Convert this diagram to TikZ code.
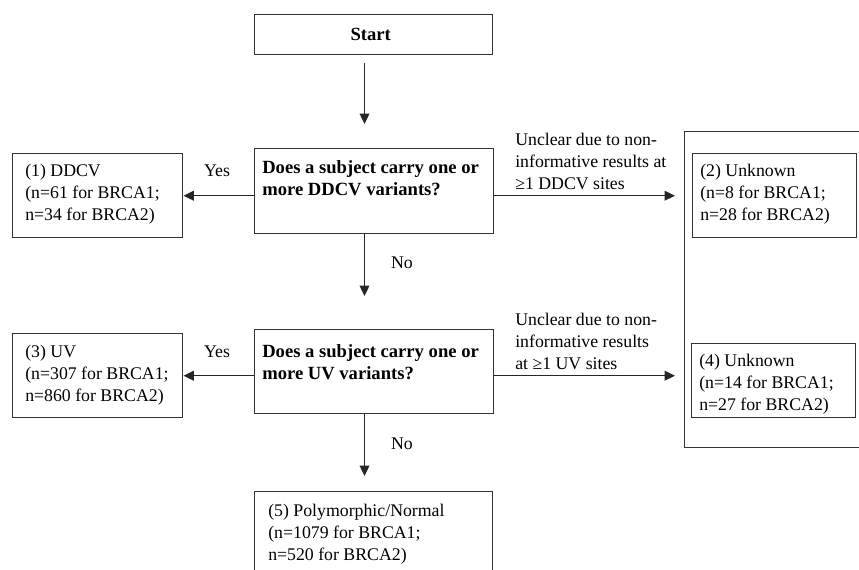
\documentclass[tikz,border=0pt]{standalone}
\usepackage{fontspec}
\setmainfont{Liberation Serif}
\usetikzlibrary{arrows.meta,calc}
\def\upx{0.72pt}
\tikzset{
  box/.style={draw=black!80, line width=1.05pt, rectangle, inner sep=0pt, anchor=north west},
  txt/.style={anchor=north west, align=left, inner sep=0pt, font=\fontsize{12.8}{15.8}\selectfont},
  btxt/.style={txt, font=\fontsize{13.4}{15.8}\selectfont\bfseries},
  lbl/.style={anchor=base, inner sep=0pt, font=\fontsize{12.8}{15.8}\selectfont},
  arr/.style={draw=black!85, line width=0.95pt, -{Triangle[length=7.5pt,width=7pt]}}
}
\begin{document}
\begin{tikzpicture}[x=0.72pt,y=-0.72pt]
\useasboundingbox (0,0) rectangle (859,569);
\clip (0,0) rectangle (859,569);
\fill[white] (0,0) rectangle (859,569);
% boxes
\node[box, minimum width={238*\upx}, minimum height={40*\upx}] (start) at (254,14) {};
\node[font=\fontsize{13.4}{15.8}\selectfont\bfseries, inner sep=0pt] (tstart) at ([xshift=-3*\upx]start.center) {Start};
\node[box, minimum width={239*\upx}, minimum height={85*\upx}] (q1) at (254,148) {};
\node[box, minimum width={170*\upx}, minimum height={84*\upx}] (ddcv) at (12,153) {};
\node[box, minimum width={239*\upx}, minimum height={84*\upx}] (q2) at (254,329) {};
\node[box, minimum width={170*\upx}, minimum height={84*\upx}] (uv) at (12,333) {};
\node[box, minimum width={238*\upx}, minimum height={100*\upx}] (poly) at (254,491) {};
\node[box, minimum width={230*\upx}, minimum height={316*\upx}] (outer) at (684,131) {};
\node[box, minimum width={164*\upx}, minimum height={84*\upx}] (unk2) at (692,153) {};
\node[box, minimum width={164*\upx}, minimum height={74*\upx}] (unk4) at (691,343) {};
% texts
\node[btxt] (tq1) at (262,160.7) {Does a subject carry one or\\more DDCV variants?};
\node[btxt] (tq2) at (262,344.7) {Does a subject carry one or\\more UV variants?};
\node[txt] (tddcv) at (25,164.2) {(1) DDCV\\(n=61 for BRCA1;\\n=34 for BRCA2)};
\node[txt] (tuv) at (25,345.2) {(3) UV\\(n=307 for BRCA1;\\n=860 for BRCA2)};
\node[txt] (tunk2) at (700,164.2) {(2) Unknown\\(n=8 for BRCA1;\\n=28 for BRCA2)};
\node[txt] (tunk4) at (699,354.2) {(4) Unknown\\(n=14 for BRCA1;\\n=27 for BRCA2)};
\node[txt] (tpoly) at (268,504.2) {(5) Polymorphic/Normal\\(n=1079 for BRCA1;\\n=520 for BRCA2)};
\node[txt] (tu1) at (515,133.2) {Unclear due to non-\\informative results at\\≥1 DDCV sites};
\node[txt] (tu2) at (515,313.2) {Unclear due to non-\\informative results\\at ≥1 UV sites};
\node[lbl] (yes1) at (217,176.5) {Yes};
\node[lbl] (yes2) at (217,357.5) {Yes};
\node[lbl] (no1) at (402,268) {No};
\node[lbl] (no2) at (402,449) {No};
% connectors
\coordinate (ax) at (364.5,0);
\draw[arr, shorten <=8*\upx, shorten >=24*\upx] (start.south -| ax) -- (q1.north -| ax);
\draw[arr, shorten >=33*\upx] (q1.south -| ax) -- (q2.north -| ax);
\draw[arr, shorten >=15*\upx] (q2.south -| ax) -- (poly.north -| ax);
\draw[arr] (q1.west |- ddcv.east) -- (ddcv.east);
\draw[arr] (q2.west |- uv.east) -- (uv.east);
\draw[arr, shorten >=9*\upx] (q1.east |- ddcv.east) -- (outer.west |- ddcv.east);
\draw[arr, shorten >=9*\upx] (q2.east |- uv.east) -- (outer.west |- uv.east);
\end{tikzpicture}
\end{document}
